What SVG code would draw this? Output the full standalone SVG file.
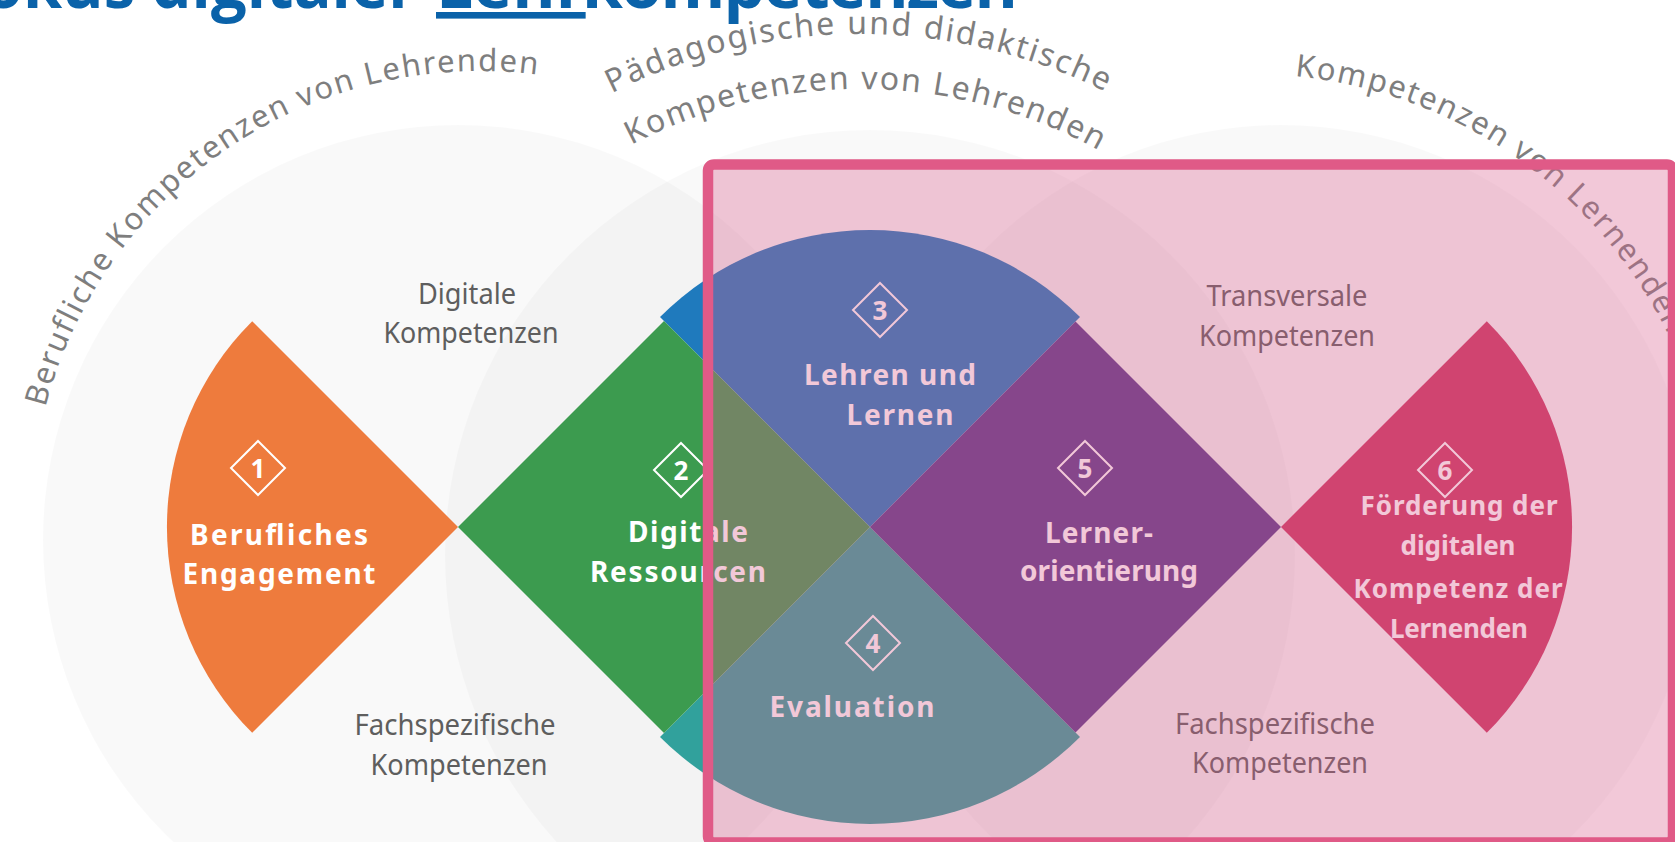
<svg xmlns="http://www.w3.org/2000/svg" xmlns:xlink="http://www.w3.org/1999/xlink" width="1675" height="842" viewBox="0 0 1675 842">
<style>
.bgc{fill:#000;fill-opacity:0.022}
.arc{font-family:"Noto Sans","Open Sans",sans-serif;font-size:31px;fill:#7e7e7e;letter-spacing:1.8px}
.lbl{font-family:"Noto Sans","Open Sans",sans-serif;font-weight:700;font-size:28px;fill:#fff;text-anchor:middle}
.lbl6{font-family:"Noto Sans","Open Sans",sans-serif;font-weight:700;font-size:26px;fill:#fff;text-anchor:middle}
.num{font-family:"Noto Sans","Open Sans",sans-serif;font-weight:700;font-size:26px;fill:#fff;text-anchor:middle}
.badge{fill:none;stroke:#fff;stroke-width:2}
.grey{font-family:"Noto Sans","Open Sans",sans-serif;font-size:29px;fill:#5e5e5e;text-anchor:middle}
.title{font-family:"Open Sans","Noto Sans",sans-serif;font-weight:700;font-size:66px;fill:#0a62a9}
</style>
<defs>
<path id="a1" d="M45.3,407.6 A449,449 0 0 1 633.6,98.1"/>
<path id="a2" d="M611.6,93.2 A551,551 0 0 1 1176,133.6"/>
<path id="a3" d="M631,145 A496,496 0 0 1 1144.5,178.7"/>
<path id="a4" d="M1294.7,76.1 A466,466 0 0 1 1708.9,620.9"/>
</defs>
<rect x="0" y="0" width="1675" height="842" fill="#ffffff"/>
<g id="background-circles">
<circle class="bgc" cx="458" cy="540" r="415"/>
<circle class="bgc" cx="870" cy="555" r="425"/>
<circle class="bgc" cx="1281" cy="540" r="415"/>
</g>
<g id="area-labels">
<text class="arc"><textPath xlink:href="#a1" href="#a1">Berufliche Kompetenzen von Lehrenden</textPath></text>
<text class="arc" style="font-size:32px;letter-spacing:2px"><textPath xlink:href="#a2" href="#a2">Pädagogische und didaktische</textPath></text>
<text class="arc" style="font-size:32px"><textPath xlink:href="#a3" href="#a3">Kompetenzen von Lehrenden</textPath></text>
<text class="arc"><textPath xlink:href="#a4" href="#a4">Kompetenzen von Lernenden</textPath></text>
</g>
<g id="node-3">
<path d="M870,527 L660,317 A297,297 0 0 1 1080,317 Z" fill="#1f7abd"/>
</g>
<g id="node-4">
<path d="M870,527 L1080,737 A297,297 0 0 1 660,737 Z" fill="#31a19c"/>
</g>
<g id="node-1">
<path d="M458,527 L252.2,321.2 A291,291 0 0 0 252.2,732.8 Z" fill="#ee7b3d"/>
<path class="badge" d="M258,441 L285,468 L258,495 L231,468 Z"/>
<text class="num" x="258" y="477.5">1</text>
<text class="lbl" x="279" y="545" textLength="178">Berufliches</text>
<text class="lbl" x="279" y="584" textLength="193">Engagement</text>
</g>
<g id="node-2">
<path d="M458,527 L664,321 L870,527 L664,733 Z" fill="#3c9b4f"/>
<path class="badge" d="M681,443 L708,470 L681,497 L654,470 Z"/>
<text class="num" x="681" y="479.5">2</text>
<text class="lbl" x="688" y="542" textLength="120">Digitale</text>
<text class="lbl" x="678" y="582" textLength="176">Ressourcen</text>
</g>
<g id="node-5">
<path d="M870,527 L1075.5,321.5 L1281,527 L1075.5,732.5 Z" fill="#5c3a8a"/>
<path class="badge" d="M1085,441 L1112,468 L1085,495 L1058,468 Z"/>
<text class="num" x="1085" y="477.5">5</text>
<text class="lbl" x="1099" y="543" textLength="108">Lerner-</text>
<text class="lbl" x="1109" y="581" textLength="178">orientierung</text>
</g>
<g id="node-3-text">
<path class="badge" d="M880,283 L907,310 L880,337 L853,310 Z"/>
<text class="num" x="880" y="319.5">3</text>
<text class="lbl" x="890" y="385" textLength="172">Lehren und</text>
<text class="lbl" x="900" y="425" textLength="107">Lernen</text>
</g>
<g id="node-4-text">
<path class="badge" d="M873,616 L900,643 L873,670 L846,643 Z"/>
<text class="num" x="873" y="652.5">4</text>
<text class="lbl" x="852" y="717" textLength="165">Evaluation</text>
</g>
<g id="node-6">
<path d="M1281,527 L1486.8,321.2 A291,291 0 0 1 1486.8,732.8 Z" fill="#cb3762"/>
<path class="badge" d="M1445,443 L1472,470 L1445,497 L1418,470 Z"/>
<text class="num" x="1445" y="479.5">6</text>
<text class="lbl6" x="1459" y="515" textLength="197">Förderung der</text>
<text class="lbl6" x="1458" y="555" textLength="115">digitalen</text>
<text class="lbl6" x="1458" y="598" textLength="209">Kompetenz der</text>
<text class="lbl6" x="1459" y="638" textLength="138">Lernenden</text>
</g>
<g id="competence-labels">
<text class="grey" x="467" y="304" textLength="98" lengthAdjust="spacingAndGlyphs">Digitale</text>
<text class="grey" x="471" y="343" textLength="175" lengthAdjust="spacingAndGlyphs">Kompetenzen</text>
<text class="grey" x="455" y="735" textLength="201" lengthAdjust="spacingAndGlyphs">Fachspezifische</text>
<text class="grey" x="459" y="775" textLength="177" lengthAdjust="spacingAndGlyphs">Kompetenzen</text>
<text class="grey" x="1287" y="306" textLength="161" lengthAdjust="spacingAndGlyphs">Transversale</text>
<text class="grey" x="1287" y="346" textLength="176" lengthAdjust="spacingAndGlyphs">Kompetenzen</text>
<text class="grey" x="1275" y="734" textLength="200" lengthAdjust="spacingAndGlyphs">Fachspezifische</text>
<text class="grey" x="1280" y="773" textLength="176" lengthAdjust="spacingAndGlyphs">Kompetenzen</text>
</g>
<g id="connectors"></g>
<g id="highlight">
<rect x="708" y="164.5" width="965" height="678" rx="6" fill="#d95d8c" fill-opacity="0.34" stroke="#e05a87" stroke-width="10.5"/>
</g>
<g id="title">
<text class="title" y="8"><tspan x="-51" textLength="468" lengthAdjust="spacingAndGlyphs">Fokus digitaler</tspan> <tspan x="436" text-decoration="underline">Lehr</tspan><tspan x="582" textLength="436">kompetenzen</tspan></text>
</g>
</svg>
